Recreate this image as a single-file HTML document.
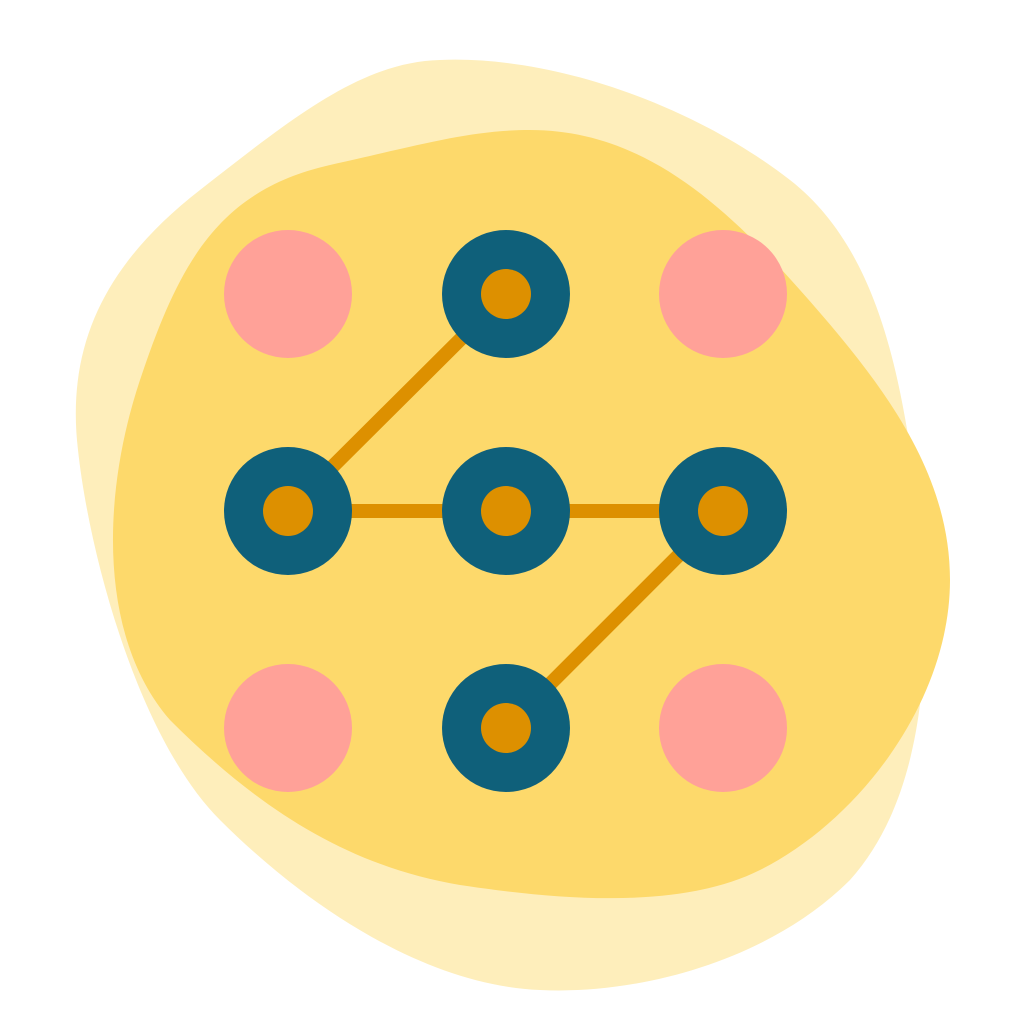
<!DOCTYPE html>
<html><head><style>html,body{margin:0;padding:0;background:#fff}svg{display:block}</style></head>
<body>
<svg width="1024" height="1024" viewBox="0 0 1024 1024" xmlns="http://www.w3.org/2000/svg">
<path fill="#FEEEBB" d="M 440 60 C 560 55, 700 110, 790 180 C 880 250, 900 380, 915 480 C 930 600, 940 780, 850 880 C 770 960, 640 995, 540 990 C 420 985, 300 900, 220 820 C 140 740, 90 560, 78 450 C 65 340, 110 260, 200 190 C 290 120, 360 62, 440 60 Z"/>
<path fill="#FDD96B" d="M 530 130 C 640 130, 720 200, 800 290 C 880 380, 950 470, 950 580 C 950 700, 860 820, 760 870 C 680 910, 560 900, 460 885 C 340 865, 250 800, 170 720 C 100 640, 100 500, 140 380 C 180 260, 220 190, 330 165 C 420 145, 470 130, 530 130 Z"/>
<g stroke="#DD9000" stroke-width="14" fill="none">
<polyline points="506,294 288,511 723,511 506,728"/>
</g>
<g fill="#FFA198">
<circle cx="288" cy="294" r="64"/><circle cx="723" cy="294" r="64"/>
<circle cx="288" cy="728" r="64"/><circle cx="723" cy="728" r="64"/>
</g>
<g fill="#0F607A">
<circle cx="506" cy="294" r="64"/><circle cx="288" cy="511" r="64"/><circle cx="506" cy="511" r="64"/><circle cx="723" cy="511" r="64"/><circle cx="506" cy="728" r="64"/>
</g>
<g fill="#DD9000">
<circle cx="506" cy="294" r="25"/><circle cx="288" cy="511" r="25"/><circle cx="506" cy="511" r="25"/><circle cx="723" cy="511" r="25"/><circle cx="506" cy="728" r="25"/>
</g>
</svg>
</body></html>
